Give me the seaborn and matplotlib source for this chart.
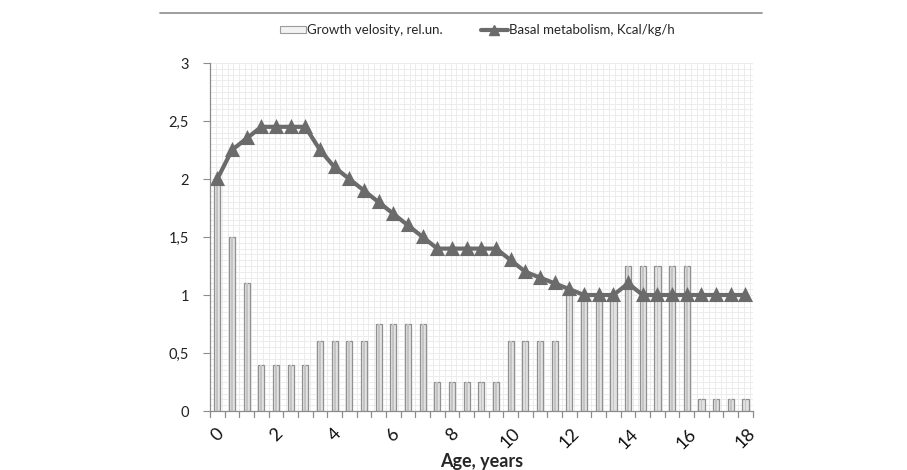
import numpy as np
import pandas as pd
import seaborn as sns
import matplotlib.pyplot as plt
from matplotlib.lines import Line2D
from matplotlib.patches import Patch
from matplotlib.ticker import FuncFormatter, MultipleLocator, FixedLocator

# Dati (passo di mezzo anno, 0..18)
ages = [f"{a:g}" for a in np.arange(0, 18.5, 0.5)]
growth = [2.0, 1.5, 1.1,
          0.4, 0.4, 0.4, 0.4,
          0.6, 0.6, 0.6, 0.6,
          0.75, 0.75, 0.75, 0.75,
          0.25, 0.25, 0.25, 0.25, 0.25,
          0.6, 0.6, 0.6, 0.6,
          1.0, 1.0, 1.0, 1.0,
          1.25, 1.25, 1.25, 1.25, 1.25,
          0.1, 0.1, 0.1, 0.1]
basal = [2.0, 2.25, 2.35, 2.45, 2.45, 2.45, 2.45,
         2.25, 2.1, 2.0, 1.9, 1.8, 1.7, 1.6, 1.5,
         1.4, 1.4, 1.4, 1.4, 1.4,
         1.3, 1.2, 1.15, 1.1, 1.05,
         1.0, 1.0, 1.0, 1.1,
         1.0, 1.0, 1.0, 1.0, 1.0, 1.0, 1.0, 1.0]
tick_labels = ["0", "2", "4", "6", "8", "10", "12", "14", "16", "18"]

df = pd.DataFrame({"age": ages, "growth": growth, "basal": basal})

sns.set_style("white")
plt.rcParams['font.family'] = ['Lato', 'DejaVu Sans']

fig = plt.figure(figsize=(9.07, 4.70), dpi=100)
ax = fig.add_axes([0.2315, 0.1255, 0.5985, 0.7404])

bar_col = "#e2e2e2"
edge_col = "#909090"
line_col = "#6b6b6b"

sns.barplot(data=df, x="age", y="growth", order=ages, color=bar_col,
            edgecolor=edge_col, linewidth=0.9, width=0.42, saturation=1, ax=ax)
# riga centrale piu scura (effetto cilindro)
sns.barplot(data=df, x="age", y="growth", order=ages, color="#c4c4c4",
            linewidth=0, width=0.12, saturation=1, ax=ax)
sns.pointplot(data=df, x="age", y="basal", order=ages, color=line_col,
              markers="^", markersize=7.5, linewidth=3, errorbar=None, ax=ax)

# Griglia tipo carta millimetrata
ax.set_axisbelow(True)
ax.yaxis.set_minor_locator(MultipleLocator(0.05))
ax.xaxis.set_minor_locator(FixedLocator(np.arange(-0.5, 36.6, 0.4)))
ax.grid(which="minor", color="#ececec", linewidth=0.7)
ax.grid(which="major", axis="y", color="#ececec", linewidth=0.7)

ax.set_xlim(-0.5, 36.5)
ax.set_ylim(0, 3)
ax.set_yticks(np.arange(0, 3.01, 0.5))
ax.yaxis.set_major_formatter(FuncFormatter(lambda v, p: f"{v:g}".replace(".", ",")))
ax.set_xticks(np.arange(0, 37, 4))
ax.set_xticklabels(tick_labels, rotation=45, ha="center", fontsize=13)

ax.tick_params(axis="y", which="major", left=True, length=5, color="#8c8c8c",
               labelsize=10.5, labelcolor="#222222", pad=10)
ax.tick_params(axis="y", which="minor", left=False)
ax.tick_params(axis="x", which="major", bottom=False, pad=7, labelcolor="#111111")
ax.tick_params(axis="x", which="minor", bottom=False)

# tacche dell'asse tra le categorie
for k in np.arange(-0.5, 37, 1):
    ax.plot([k, k], [0, -0.05], color="#8c8c8c", lw=0.9, clip_on=False)

for s in ["top", "right"]:
    ax.spines[s].set_visible(False)
for s in ["left", "bottom"]:
    ax.spines[s].set_color("#8c8c8c")
    ax.spines[s].set_linewidth(0.9)

ax.set_ylabel("")
ax.set_xlabel("Age, years", fontsize=13, fontweight="bold", labelpad=1)

handles = [Patch(facecolor="#f2f2f2", edgecolor="#9c9c9c", linewidth=0.8),
           Line2D([0], [0], color=line_col, lw=3, marker="^", markersize=7)]
fig.legend(handles, ["Growth velosity, rel.un.", "Basal metabolism, Kcal/kg/h"],
           loc="center left", bbox_to_anchor=(273 / 907, 0.936), ncol=2, frameon=False,
           fontsize=9.5, handlelength=2.0, handletextpad=0.1, columnspacing=2.9,
           handleheight=0.5, borderpad=0)

fig.add_artist(Line2D([160 / 907, 762 / 907], [1 - 13 / 470, 1 - 13 / 470],
                      color="#8c8c8c", lw=1.2))

fig.savefig("out.png", dpi=100)
